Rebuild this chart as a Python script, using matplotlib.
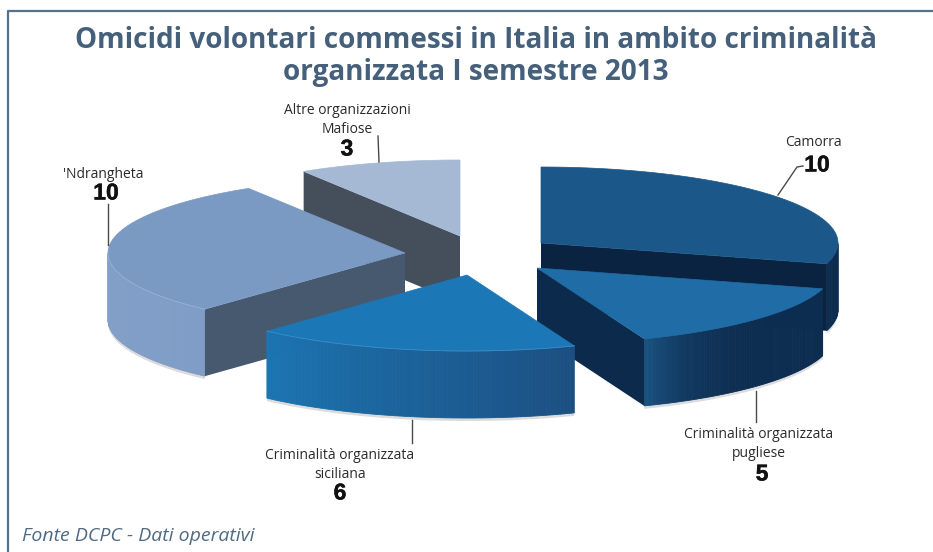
import numpy as np
import matplotlib
matplotlib.use("Agg")
import matplotlib.pyplot as plt
import matplotlib.patheffects as pe
from matplotlib.colors import to_rgb

# Homicide counts per organisation, first half of 2013
organizzazioni = ["Camorra", "Criminalità organizzata\npugliese", "Criminalità organizzata\nsiciliana",
                  "'Ndrangheta", "Altre organizzazioni\nMafiose"]
omicidi = [10, 5, 6, 10, 3]

# Exploded wedge apex for each slice, on the pixel-sized canvas
apex_x = [541, 537, 467, 405, 460]
apex_y = [243, 268, 275, 253, 236]

top_col = ["#1b5788", "#1f6ca6", "#1b77b6", "#7a9ac3", "#a5b9d4"]
face_col = ["#0a2340", "#0c2b4c", "#0c2b4c", "#46596f", "#454f5c"]
wall_a = ["#0c2c4f", "#0d2d50", "#1c4f81", "#7f9dc6", "#8aa0c0"]   # start of the sweep
wall_b = ["#0c2c4f", "#1a5585", "#1b75b2", "#86a3ca", "#8aa0c0"]   # end of the sweep
wall_power = [1, 6, 1, 1, 1]
rim_col = [None, None, "#3f8cc8", "#98b4d8", None]
draw_order = [4, 3, 0, 1, 2]

RX, RY, DEPTH = 297, 76, 67

fig = plt.figure(figsize=(9.33, 5.52), dpi=100)
ax = fig.add_axes([0, 0, 1, 1])
ax.set_xlim(0, 933)
ax.set_ylim(552, 0)
ax.axis("off")

# Frame runs down the left side and along the top
ax.plot([8, 8, 933], [552, 11, 11], color="#54728a", lw=1.6, zorder=1)

shares = 360 * np.array(omicidi) / sum(omicidi)
ends = 90 - np.cumsum(shares)
starts = ends + shares


def rim(i, deg):
    rad = np.radians(deg)
    return apex_x[i] + RX * np.cos(rad), apex_y[i] - RY * np.sin(rad)


z = 2
for i in draw_order:
    s, e = starts[i], ends[i]
    cx, cy = apex_x[i], apex_y[i]

    # Curved outer wall, only where it faces the viewer
    sweep = np.linspace(s, e, 90)
    for a, b in zip(sweep[:-1], sweep[1:]):
        if np.sin(np.radians((a + b) / 2)) < 0:
            f = ((s - a) / (s - e)) ** wall_power[i]
            col = (1 - f) * np.array(to_rgb(wall_a[i])) + f * np.array(to_rgb(wall_b[i]))
            xa, ya = rim(i, a)
            xb, yb = rim(i, b)
            # soft contact shadow under the wall
            ax.fill([xa, xb, xb, xa], [ya, yb, yb + DEPTH + 3, ya + DEPTH + 3],
                    color="#9a9a9a", alpha=0.35, lw=0, zorder=z)
            ax.fill([xa, xb, xb, xa], [ya, yb, yb + DEPTH, ya + DEPTH],
                    facecolor=col, edgecolor=col, lw=0.6, zorder=z + 0.1)

    # Flat cut faces that turn towards the viewer
    for edge, normal in ((s, s + 90), (e, e - 90)):
        if np.sin(np.radians(normal)) < -1e-6:
            xr, yr = rim(i, edge)
            ax.fill([cx, xr, xr, cx], [cy, yr, yr + DEPTH, cy + DEPTH],
                    color=face_col[i], lw=0, zorder=z + 0.2)

    # Top face
    xs, ys = zip(*[rim(i, a) for a in sweep])
    ax.fill([cx, *xs, cx], [cy, *ys, cy], facecolor=top_col[i], edgecolor=top_col[i],
            lw=0.5, zorder=z + 0.3)

    # Pale highlight along the front edge of the lighter slices
    if rim_col[i]:
        front = [k for k, a in enumerate(sweep) if np.sin(np.radians(a)) < 0]
        ax.plot([xs[k] for k in front], [ys[k] for k in front], color=rim_col[i], lw=0.6, zorder=z + 0.4)
    z += 1

# Leader lines
leaders = [([778, 797, 803], [195, 167, 166]), ([756, 756], [391, 422]), ([412, 412], [420, 443]),
           ([108, 108], [204, 245]), ([378, 379], [136, 162])]
for lx, ly in leaders:
    ax.plot(lx, ly, color="#4a4a4a", lw=1.0, zorder=20)

title_col = "#44607a"
ax.text(476, 48, "Omicidi volontari commessi in Italia in ambito criminalità", ha="center", va="baseline",
        fontsize=20.1, fontweight="bold", family="Open Sans", color=title_col, zorder=20)
ax.text(476, 80, "organizzata I semestre 2013", ha="center", va="baseline",
        fontsize=20.1, fontweight="bold", family="Open Sans", color=title_col, zorder=20)

# Name and count for each slice
name_pos = [(813, 143), (759, 444), (340, 465), (103, 175), (347, 120)]
count_pos = [(817, 165), (762, 474), (340, 493), (106, 193), (347, 149)]
label_font = dict(family="Open Sans", fontsize=10, color="#2b2b2b", ha="center", va="center",
                  linespacing=1.32, zorder=20)
for i, name in enumerate(organizzazioni):
    ax.text(*name_pos[i], name, **label_font)
    ax.text(*count_pos[i], str(omicidi[i]), family="Liberation Sans", fontsize=16.5, fontweight="bold",
            color="#111111", ha="center", va="center", zorder=20,
            path_effects=[pe.withStroke(linewidth=0.3, foreground="#111111")])

ax.text(22, 536, "Fonte DCPC - Dati operativi", family="Open Sans", style="italic", fontsize=14,
        color="#4f6a84", ha="left", va="center", zorder=20)

fig.savefig("out.png", dpi=100)
